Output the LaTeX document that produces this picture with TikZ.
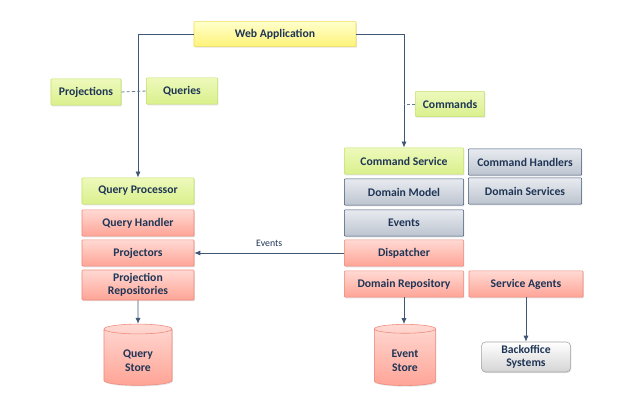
\documentclass[tikz,border=0pt]{standalone}
\usepackage{fontspec}
\setmainfont{Carlito}
\usetikzlibrary{arrows.meta,shapes.geometric,shadows}
\definecolor{cqtext}{HTML}{1F3556}
\definecolor{cqlink}{HTML}{3E5775}
\definecolor{greenline}{HTML}{C5E26A}
\definecolor{greentop}{HTML}{EDF9BC}
\definecolor{greenbot}{HTML}{DAF08C}
\definecolor{yellowline}{HTML}{EEDC5A}
\definecolor{yellowtop}{HTML}{FFFFCC}
\definecolor{yellowbot}{HTML}{FFF379}
\definecolor{redline}{HTML}{EF8A7C}
\definecolor{redtop}{HTML}{FFD9D3}
\definecolor{redbot}{HTML}{FFA496}
\definecolor{grayline}{HTML}{3F5673}
\definecolor{graytop}{HTML}{E8EBF0}
\definecolor{graybot}{HTML}{BDC4CF}
\definecolor{paleline}{HTML}{A3A3A3}
\definecolor{palebot}{HTML}{D4D4D4}
\tikzset{
  cqbox/.style={draw, rounded corners=0.6pt, align=center, text=cqtext,
    font=\bfseries\fontsize{8.3}{9.3}\selectfont, inner sep=1pt,
    minimum width=2.8cm, minimum height=0.66cm,
    drop shadow={opacity=0.22, shadow xshift=0.6pt, shadow yshift=-0.8pt}},
  cqgreen/.style={cqbox, draw=greenline, top color=greentop, bottom color=greenbot},
  cqyellow/.style={cqbox, draw=yellowline, top color=yellowtop, bottom color=yellowbot},
  cqred/.style={cqbox, draw=redline, top color=redtop, bottom color=redbot},
  cqgray/.style={cqbox, draw=grayline, top color=graytop, bottom color=graybot},
  cqstore/.style={cylinder, shape border rotate=90, aspect=0.3, draw=redline,
    top color=redtop, bottom color=redbot, align=center, text=cqtext,
    font=\bfseries\fontsize{8.3}{9.8}\selectfont, inner sep=1pt,
    drop shadow={opacity=0.22, shadow xshift=0.6pt, shadow yshift=-0.8pt}},
  cqarrow/.style={-{Latex[length=1.5mm,width=1.3mm]}, draw=cqlink, semithick},
  cqdash/.style={dash pattern=on 2.2pt off 1.6pt, draw=cqlink!80, semithick}
}
\begin{document}
\begin{tikzpicture}[x=0.025cm, y=-0.025cm]
  \useasboundingbox (0,0) rectangle (640,416);
  % top
  \node[cqyellow, minimum width=4.05cm, minimum height=0.63cm] (webapp) at (275,34) {Web Application};
  \node[cqgreen, minimum width=1.75cm] (proj) at (86,92) {Projections};
  \node[cqgreen, minimum width=1.78cm] (queries) at (182,91) {Queries};
  \node[cqgreen, minimum width=1.73cm, minimum height=0.63cm] (cmds) at (450,104) {Commands};
  % query side
  \node[cqgreen] (qproc) at (138,191) {Query Processor};
  \node[cqred] (qhandler) at (138,223) {Query Handler};
  \node[cqred] (projectors) at (138,253) {Projectors};
  \node[cqred, minimum height=0.75cm] (projrepo) at (138,285) {Projection\\Repositories};
  \node[cqstore, minimum width=1.7cm, minimum height=1.53cm] (qstore) at (138,358) {\mbox{}\\Query\\Store};
  % command side
  \node[cqgreen, minimum width=2.98cm] (cmdsvc) at (404,161) {Command Service};
  \node[cqgray, minimum width=2.98cm] (dommodel) at (404,192) {Domain Model};
  \node[cqgray, minimum width=2.98cm] (events) at (404,223) {Events};
  \node[cqred, minimum width=2.98cm] (disp) at (404,253) {Dispatcher};
  \node[cqred, minimum width=2.98cm] (domrepo) at (404,284) {Domain Repository};
  \node[cqstore, minimum width=1.53cm, minimum height=1.53cm] (estore) at (405,358) {\mbox{}\\Event\\Store};
  \node[cqgray, minimum width=2.83cm] (cmdhand) at (525,162) {Command Handlers};
  \node[cqgray, minimum width=2.83cm] (domsvc) at (525,191) {Domain Services};
  \node[cqred, minimum width=2.85cm] (agents) at (526,284) {Service Agents};
  \node[cqbox, rounded corners=3pt, draw=paleline, top color=white, bottom color=palebot,
    minimum width=2.23cm, minimum height=0.75cm] (backoffice) at (526,357) {Backoffice\\Systems};
  % connectors
  \draw[cqarrow] (webapp.west) -| (qproc.north);
  \draw[cqarrow] (webapp.east) -| (cmdsvc.north);
  \draw[cqdash] (proj.east) -- (queries.west);
  \draw[cqdash] (cmds.west) -- (cmds.west -| cmdsvc.north);
  \draw[cqarrow] (disp.west) -- node[above=1pt, text=cqtext, font=\fontsize{7}{8}\selectfont] (evlabel) {Events} (projectors.east);
  \draw[cqarrow] (projrepo.south) -- (qstore.north);
  \draw[cqarrow] (domrepo.south) -- (domrepo.south |- estore.north);
  \draw[cqarrow] (agents.south) -- (backoffice.north);
\end{tikzpicture}
\end{document}
